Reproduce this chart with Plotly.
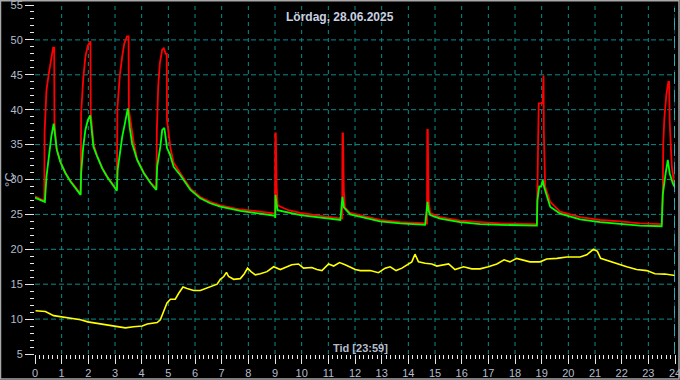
import plotly.graph_objects as go

# ---- data (hours, °C) ----
red_t = [0.00, 0.21, 0.35, 0.36, 0.43, 0.52, 0.61, 0.68, 0.72, 0.73, 0.80, 0.95, 1.14, 1.33, 1.58, 1.71,
         1.72, 1.73, 1.81, 1.89, 1.98, 2.05, 2.08, 2.09, 2.15, 2.20, 2.33, 2.52, 2.70, 2.89, 3.07,
         3.09, 3.18, 3.27, 3.35, 3.45, 3.51, 3.52, 3.60, 3.70, 3.83, 4.08, 4.33, 4.55,
         4.57, 4.62, 4.68, 4.77, 4.83, 4.90, 4.94, 4.95, 5.08, 5.20, 5.45, 5.83, 6.20, 6.57, 6.95,
         7.70, 8.45, 9.00, 9.01, 9.03, 9.06, 9.10, 9.50, 9.95, 10.70, 11.45, 11.52, 11.53, 11.55,
         11.58, 11.62, 11.82, 12.70, 12.94, 13.70, 14.63, 14.70, 14.71, 14.73, 14.76, 14.82, 15.19,
         15.94, 16.69, 17.44, 18.82, 18.84, 18.87, 18.89, 19.04, 19.05, 19.07, 19.08, 19.13, 19.32,
         19.69, 20.44, 21.19, 21.94, 22.68, 23.50, 23.54, 23.56, 23.60, 23.68, 23.75, 23.78, 23.80,
         23.88, 24.00]
red_v = [27.6, 27.2, 26.9, 36.8, 42.8, 45.2, 47.6, 48.9, 48.9, 38.3, 34.6, 32.6, 31.0, 29.8, 28.6, 27.9,
         30.9, 39.5, 44.5, 47.6, 49.2, 49.8, 49.8, 39.5, 37.3, 35.0, 33.4, 31.7, 30.5, 29.4, 28.5,
         40.2, 44.9, 47.6, 49.5, 50.5, 50.5, 40.0, 37.6, 35.3, 32.9, 31.0, 29.6, 28.7,
         37.1, 43.3, 46.6, 48.6, 48.8, 48.0, 48.0, 38.5, 34.5, 32.4, 30.9, 28.7, 27.5, 26.8, 26.3,
         25.7, 25.4, 25.1, 36.6, 36.6, 29.0, 26.3, 25.6, 25.2, 24.8, 24.5, 24.4, 36.6, 36.6,
         28.5, 26.0, 25.2, 24.4, 24.2, 23.9, 23.7, 23.7, 37.1, 37.1, 27.0, 25.2, 24.6,
         24.1, 23.9, 23.7, 23.6, 31.8, 33.2, 40.9, 40.9, 44.9, 44.9, 37.1, 29.0, 26.8,
         25.4, 24.6, 24.2, 24.0, 23.7, 23.6, 27.1, 35.2, 38.7, 42.3, 44.0, 44.0, 38.3,
         31.8, 28.7]

green_t = [0.00, 0.21, 0.37, 0.43, 0.52, 0.61, 0.70, 0.76, 0.82, 0.95, 1.14, 1.33, 1.58, 1.71,
           1.73, 1.81, 1.89, 1.98, 2.07, 2.13, 2.19, 2.33, 2.52, 2.70, 2.89, 3.07,
           3.10, 3.18, 3.27, 3.37, 3.48, 3.55, 3.64, 3.83, 4.08, 4.33, 4.55,
           4.58, 4.70, 4.77, 4.85, 4.90, 4.95, 5.05, 5.20, 5.45, 5.83, 6.20, 6.57, 6.95,
           7.70, 8.45, 9.00, 9.01, 9.02, 9.06, 9.10, 9.95, 10.70, 11.45, 11.53, 11.58, 11.82,
           12.70, 12.94, 13.70, 14.63, 14.72, 14.76, 14.82, 15.19, 15.94, 16.69, 17.44, 18.82,
           18.84, 18.91, 18.98, 19.04, 19.10, 19.32, 19.69, 20.44, 21.19, 21.94, 22.68, 23.50,
           23.54, 23.65, 23.73, 23.80, 23.92, 24.00]
green_v = [27.4, 27.0, 26.8, 30.4, 33.7, 36.1, 38.0, 36.1, 34.2, 32.5, 30.9, 29.7, 28.5, 27.8,
           30.9, 34.7, 37.1, 38.5, 39.2, 37.1, 34.7, 33.3, 31.6, 30.4, 29.3, 28.4,
           31.4, 33.7, 36.1, 38.0, 40.2, 37.5, 35.2, 32.8, 30.9, 29.5, 28.5,
           31.8, 34.7, 37.1, 37.4, 36.0, 34.5, 33.7, 31.8, 30.6, 28.5, 27.3, 26.6, 26.1,
           25.5, 25.1, 24.8, 24.5, 27.8, 26.5, 25.6, 24.9, 24.5, 24.2, 27.5, 26.0, 25.0,
           24.2, 24.0, 23.7, 23.5, 26.8, 25.5, 24.9, 24.4, 23.9, 23.6, 23.5, 23.4,
           27.0, 29.0, 29.0, 29.9, 28.8, 26.1, 25.1, 24.3, 23.9, 23.7, 23.4, 23.3,
           27.8, 30.9, 32.8, 30.9, 29.4, 28.9]

yellow_t = [0.02, 0.39, 0.70, 1.02, 1.39, 1.71, 1.98, 2.45, 2.83, 3.14, 3.39, 3.70, 4.02, 4.21,
            4.58, 4.70, 4.83, 4.95, 5.08, 5.26, 5.39, 5.55, 5.70, 5.95, 6.20, 6.35, 6.58, 6.83,
            6.95, 7.08, 7.18, 7.26, 7.45, 7.70, 7.85, 7.97, 8.10, 8.26, 8.45, 8.70, 8.95, 9.20,
            9.45, 9.63, 9.88, 10.07, 10.38, 10.57, 10.76, 11.01, 11.20, 11.42, 11.63, 12.01,
            12.20, 12.57, 12.88, 13.13, 13.32, 13.54, 13.76, 14.01, 14.13, 14.25, 14.38, 14.63,
            14.88, 15.07, 15.32, 15.51, 15.75, 16.07, 16.38, 16.69, 17.00, 17.32, 17.59, 17.81,
            18.06, 18.31, 18.56, 18.94, 19.19, 19.57, 19.94, 20.44, 20.69, 20.94, 21.09, 21.21,
            21.44, 21.81, 22.19, 22.56, 22.94, 23.25, 23.62, 24.00]
yellow_v = [11.2, 11.1, 10.5, 10.3, 10.1, 9.9, 9.6, 9.3, 9.0, 8.9, 8.75, 8.9, 9.0, 9.3,
            9.5, 9.9, 11.3, 12.3, 12.85, 12.85, 13.7, 14.6, 14.4, 14.1, 14.1, 14.3, 14.7, 15.0,
            15.7, 16.1, 16.7, 16.1, 15.7, 15.8, 16.5, 17.3, 16.8, 16.35, 16.5, 16.8, 17.5, 17.1,
            17.5, 17.8, 17.9, 17.3, 17.4, 17.1, 16.95, 17.9, 17.6, 18.1, 17.8, 17.1,
            16.95, 16.95, 16.65, 17.3, 17.5, 16.95, 17.3, 17.9, 18.2, 19.3, 18.2, 18.0,
            17.9, 17.6, 17.75, 17.9, 17.1, 17.5, 17.2, 17.2, 17.5, 17.9, 18.5, 18.2,
            18.7, 18.4, 18.2, 18.2, 18.6, 18.7, 18.9, 18.9, 19.2, 20.0, 19.7, 18.7,
            18.4, 18.0, 17.5, 17.1, 16.95, 16.5, 16.45, 16.25]

title_text = "Lördag, 28.06.2025"
x_title = "Tid [23:59]"
y_title = "°C"

x_ticks = list(range(0, 25))
y_ticks = list(range(5, 56, 5))

label_color = "#b4bccb"
grid_color = "#0b8b8b"
font_family = "Liberation Sans, Arial, sans-serif"

fig = go.Figure()
fig.add_trace(go.Scatter(x=yellow_t, y=yellow_v, mode="lines",
                         line=dict(color="#ffff00", width=1.6), hoverinfo="skip"))
fig.add_trace(go.Scatter(x=red_t, y=red_v, mode="lines",
                         line=dict(color="#ff0000", width=1.8), hoverinfo="skip"))
fig.add_trace(go.Scatter(x=green_t, y=green_v, mode="lines",
                         line=dict(color="#00ff00", width=1.8), hoverinfo="skip"))

axis_common = dict(
    showline=False, zeroline=False, showgrid=False,
    ticks="outside", tickcolor="#e8e8e8", tickwidth=1, ticklen=9,
    tickfont=dict(family=font_family, size=11, color=label_color),
    ticklabeloverflow="allow", automargin=False,
)

fig.update_xaxes(range=[0, 24], tickvals=x_ticks, ticktext=[str(v) for v in x_ticks],
                 minor=dict(dtick=1 / 6, ticks="outside", ticklen=4, tickcolor="#e8e8e8",
                            showgrid=False),
                 **axis_common)
fig.update_yaxes(range=[5, 55], tickvals=y_ticks, ticktext=[str(v) for v in y_ticks],
                 minor=dict(dtick=1, ticks="outside", ticklen=4, tickcolor="#e8e8e8",
                            showgrid=False),
                 **axis_common)

W, H = 680, 380
L, R, T, B = 35, 5, 5, 26
pw, ph = W - L - R, H - T - B


def px_x(p):
    return (p - L) / pw


def px_y(p):
    return (H - B - p) / ph


# dashed grid at interior ticks (the reference has none on the left / top / bottom edges)
grid_shapes = []
for xv in x_ticks[1:]:
    grid_shapes.append(dict(type="line", xref="x", yref="paper", x0=xv, x1=xv, y0=0, y1=1,
                            line=dict(color=grid_color, width=1, dash="4px,4px"), layer="below"))
for yv in y_ticks[1:-1]:
    grid_shapes.append(dict(type="line", xref="paper", yref="y", x0=0, x1=1, y0=yv, y1=yv,
                            line=dict(color=grid_color, width=1, dash="5px,3px"), layer="below"))

fig.update_layout(
    width=W, height=H,
    margin=dict(l=L, r=R, t=T, b=B, autoexpand=False),
    paper_bgcolor="#000000", plot_bgcolor="#000000",
    showlegend=False,
    hovermode=False,
    font=dict(family=font_family, color=label_color),
    annotations=[
        dict(text="<b>" + title_text + "</b>", xref="paper", yref="paper",
             x=px_x(340), y=px_y(17), showarrow=False,
             font=dict(size=12, color="#c8d0e0", family=font_family),
             xanchor="center", yanchor="middle"),
        dict(text="<b>" + x_title + "</b>", xref="paper", yref="paper",
             x=px_x(360), y=px_y(348), showarrow=False,
             font=dict(size=11, color=label_color, family=font_family),
             xanchor="center", yanchor="middle"),
        dict(text=y_title, xref="paper", yref="paper",
             x=px_x(9), y=px_y(180), showarrow=False, textangle=-90,
             font=dict(size=13, color=label_color, family=font_family),
             xanchor="center", yanchor="middle"),
    ],
    shapes=grid_shapes + [
        dict(type="line", xref="x", yref="paper", x0=24, x1=24, y0=0, y1=px_y(8),
             line=dict(color="#30d8e8", width=1.5, dash="12px,6px"), layer="above"),
        dict(type="rect", xref="paper", yref="paper",
             x0=px_x(0.5), x1=px_x(679.0), y0=px_y(379.0), y1=px_y(0.8),
             line=dict(color="#a8a8a8", width=1.5), layer="above"),
    ],
)

fig.write_html(
    "out.html",
    config={"displayModeBar": False, "staticPlot": True},
    post_script="document.body.style.margin='0';document.body.style.padding='0';"
                "document.body.style.overflow='hidden';"
                "document.documentElement.style.background='#000';",
)
